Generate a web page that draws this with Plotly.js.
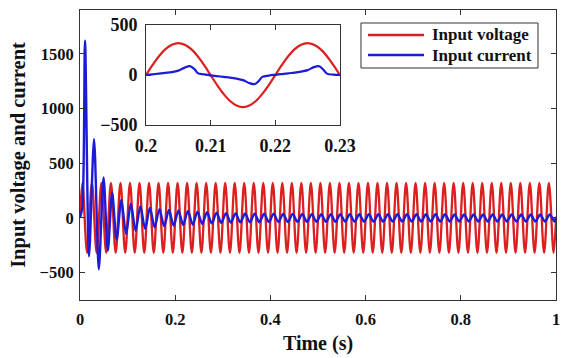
<!DOCTYPE html>
<html><head><meta charset="utf-8">
<script src="https://cdn.plot.ly/plotly-3.0.1.min.js"></script>
<style>html,body{margin:0;padding:0;background:#fff}</style>
</head><body><div id="chart" style="width:562px;height:358px"></div>
<script>
// ---- data (time in ms) ----
// main plot: voltage extrema
const mainVoltT = [0,
 5,15,25,35,45,55,65,75,85,95,
 105,115,125,135,145,155,165,175,185,195,
 205,215,225,235,245,255,265,275,285,295,
 305,315,325,335,345,355,365,375,385,395,
 405,415,425,435,445,455,465,475,485,495,
 505,515,525,535,545,555,565,575,585,595,
 605,615,625,635,645,655,665,675,685,695,
 705,715,725,735,745,755,765,775,785,795,
 805,815,825,835,845,855,865,875,885,895,
 905,915,925,935,945,955,965,975,985,995,
 1000];
const mainVolt = [0,
 320,-320,320,-320,320,-320,320,-320,320,-320,
 320,-320,320,-320,320,-320,320,-320,320,-320,
 320,-320,320,-320,320,-320,320,-320,320,-320,
 320,-320,320,-320,320,-320,320,-320,320,-320,
 320,-320,320,-320,320,-320,320,-320,320,-320,
 320,-320,320,-320,320,-320,320,-320,320,-320,
 320,-320,320,-320,320,-320,320,-320,320,-320,
 320,-320,320,-320,320,-320,320,-320,320,-320,
 320,-320,320,-320,320,-320,320,-320,320,-320,
 320,-320,320,-320,320,-320,320,-320,320,-320,
 0];
// main plot: current extrema
const mainCurrT = [0,5,10.5,19,29.5,39.5,49.5,58.5,67.5,77,
 86.8,96.8,106.8,116.8,126.8,136.8,146.8,156.8,166.8,176.8,
 186.8,196.8,206.8,216.8,226.8,236.8,246.8,256.8,266.8,276.8,
 286.8,296.8,306.8,316.8,326.8,336.8,346.8,356.8,366.8,376.8,
 386.8,396.8,406.8,416.8,426.8,436.8,446.8,456.8,466.8,476.8,
 486.8,496.8,506.8,516.8,526.8,536.8,546.8,556.8,566.8,576.8,
 586.8,596.8,606.8,616.8,626.8,636.8,646.8,656.8,666.8,676.8,
 686.8,696.8,706.8,716.8,726.8,736.8,746.8,756.8,766.8,776.8,
 786.8,796.8,806.8,816.8,826.8,836.8,846.8,856.8,866.8,876.8,
 886.8,896.8,906.8,916.8,926.8,936.8,946.8,956.8,966.8,976.8,
 986.8,996.8,1000];
const mainCurr = [0,100,1620,-350,720,-470,370,-300,230,-200,
 165,-145,130,-118,108,-100,92,-86,80,-76,
 72,-70,68,-66,64,-61,58,-55,52,-50,
 48,-46,44,-43,42,-41,40,-40,39,-39,
 38,-38,38,-37,37,-37,36,-36,36,-36,
 35,-35,35,-35,35,-35,35,-34,34,-34,
 34,-34,34,-34,34,-34,34,-33,33,-33,
 33,-33,33,-33,33,-33,33,-33,33,-32,
 32,-32,32,-32,32,-32,32,-32,32,-32,
 32,-32,32,-32,32,-32,32,-32,32,-32,
 32,-32,10];
// inset: 0.2 .. 0.23 s
const insetVoltT = [200,201,202,203,204,205,206,207,208,209,210,211,212,213,214,215,216,217,218,219,220,221,222,223,224,225,226,227,228,229,230];
const insetVolt = [0,99,188,259,304,320,304,259,188,99,0,-99,-188,-259,-304,-320,-304,-259,-188,-99,0,99,188,259,304,320,304,259,188,99,0];
const insetCurrT = [200,201,202,203,204,205,206,206.8,207.5,208,209,210,211,212,213,214,215,216,216.8,217.5,218,219,220,221,222,223,224,225,226,226.8,227.5,228,229,230];
const insetCurr = [0,8,15,22,30,45,75,90,60,20,8,-2,-10,-18,-25,-35,-50,-80,-90,-55,-18,-5,3,10,18,25,35,50,80,88,50,15,5,2];

const mainXTicks = [0,0.2,0.4,0.6,0.8,1];
const mainXTickText = ['0','0.2','0.4','0.6','0.8','1'];
const mainYTicks = [-500,0,500,1000,1500];
const insetXTicks = [0.2,0.21,0.22,0.23];
const insetXTickText = ['0.2','0.21','0.22','0.23'];
const insetYTicks = [-500,0,500];
const seriesNames = ['Input voltage','Input current'];

const toS = a => a.map(v => v/1000);
const RED = '#dc1f1f', BLUE = '#1c1cd8';
const COLORS = [RED, BLUE];
const FONT = '"Liberation Serif","Times New Roman",serif';

const traces = [
 {x: toS(mainVoltT), y: mainVolt, type:'scatter', mode:'lines', name: seriesNames[0],
  line:{color:RED, width:2.3, shape:'spline'}, xaxis:'x', yaxis:'y'},
 {x: toS(mainCurrT), y: mainCurr, type:'scatter', mode:'lines', name: seriesNames[1],
  line:{color:BLUE, width:2.4, shape:'spline', smoothing:0.8}, xaxis:'x', yaxis:'y'},
 {x: toS(insetVoltT), y: insetVolt, type:'scatter', mode:'lines', showlegend:false,
  line:{color:RED, width:2.2, shape:'spline'}, xaxis:'x2', yaxis:'y2'},
 {x: toS(insetCurrT), y: insetCurr, type:'scatter', mode:'lines', showlegend:false,
  line:{color:BLUE, width:2.2, shape:'spline'}, xaxis:'x2', yaxis:'y2'}
];

const axBase = {showline:true, linecolor:'#333', linewidth:1, mirror:'ticks', ticks:'inside',
  ticklen:5, tickcolor:'#333', showgrid:false, zeroline:false,
  tickfont:{family:FONT, size:16.5, color:'#111', weight:'bold'}};
const insetTickFont = {family:FONT, size:18, color:'#111', weight:'bold'};

// legend box (drawn in the plot's paper coordinates)
const legBox = {x0:0.5903, x1:0.9622, y0:0.80, y1:0.9552};
const legRows = [0.9138, 0.8448];
const legLine = [0.605, 0.7227];
const legTextX = 0.7353;

const shapes = [
 {type:'rect', xref:'paper', yref:'paper', x0:legBox.x0, x1:legBox.x1, y0:legBox.y0, y1:legBox.y1,
  line:{color:'#333', width:1}, fillcolor:'#fff', layer:'above'}
];
const annotations = [];
seriesNames.forEach((nm, i) => {
  shapes.push({type:'line', xref:'paper', yref:'paper', x0:legLine[0], x1:legLine[1], y0:legRows[i], y1:legRows[i],
    line:{color:COLORS[i], width:2.4}, layer:'above'});
  annotations.push({xref:'paper', yref:'paper', x:legTextX, y:legRows[i], xanchor:'left', yanchor:'middle',
    text:nm, showarrow:false, font:{family:FONT, size:17, color:'#111', weight:'bold'}});
});

const layout = {
 width:562, height:358,
 margin:{l:80, r:6, t:10, b:58},
 paper_bgcolor:'#fff', plot_bgcolor:'#fff',
 font:{family:FONT, size:16, color:'#111', weight:'bold'},
 showlegend:false,
 shapes: shapes,
 annotations: annotations,
 xaxis: Object.assign({}, axBase, {domain:[0,1], anchor:'y', range:[0,1], tickmode:'array',
   tickvals:mainXTicks, ticktext:mainXTickText, ticklabelstandoff:4,
   title:{text:'Time (s)', font:{family:FONT, size:20, color:'#111', weight:'bold'}, standoff:8}}),
 yaxis: Object.assign({}, axBase, {domain:[0,1], anchor:'x', range:[-750,1900], tickmode:'array',
   tickvals:mainYTicks, ticklabelstandoff:2,
   title:{text:'Input voltage and current', font:{family:FONT, size:20.5, color:'#111', weight:'bold'}, standoff:8}}),
 xaxis2: Object.assign({}, axBase, {domain:[0.1387,0.546], anchor:'y2', range:[0.2,0.23], tickmode:'array',
   tickvals:insetXTicks, ticktext:insetXTickText, ticklabelstandoff:4, tickfont:insetTickFont}),
 yaxis2: Object.assign({}, axBase, {domain:[0.603,0.948], anchor:'x2', range:[-500,500], tickmode:'array',
   tickvals:insetYTicks, ticklabelstandoff:4, tickfont:insetTickFont})
};

Plotly.newPlot('chart', traces, layout, {displayModeBar:false, staticPlot:true});
</script></body></html>
